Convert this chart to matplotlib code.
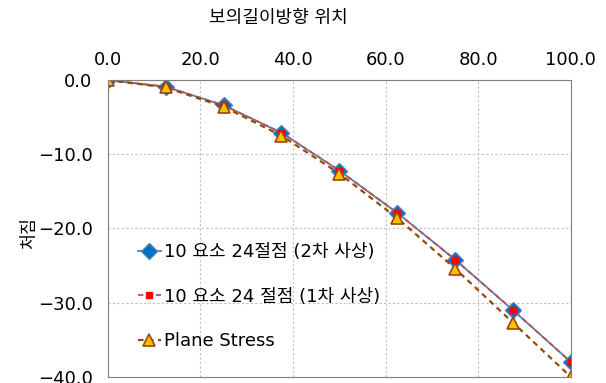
import matplotlib
matplotlib.use("Agg")
import matplotlib.pyplot as plt

plt.rcParams['font.family'] = ['DejaVu Sans', 'Noto Sans CJK KR']

# ================ data =======================
positions = [0.0, 12.5, 25.0, 37.5, 50.0, 62.5, 75.0, 87.5, 100.0]
quad = [0.0, -0.9, -3.4, -7.1, -12.2, -17.9, -24.2, -31.0, -38.0]
linear = [0.0, -0.9, -3.4, -7.1, -12.2, -17.9, -24.2, -31.0, -38.0]
plane = [0.0, -1.0, -3.6, -7.5, -12.6, -18.6, -25.4, -32.7, -40.0]
labels = ["10 요소 24절점 (2차 사상)", "10 요소 24 절점 (1차 사상)", "Plane Stress"]
x_ticks = [0, 20, 40, 60, 80, 100]
y_ticks = [0, -10, -20, -30, -40]

fig = plt.figure(figsize=(6.06, 3.83), dpi=100)
ax = fig.add_axes([0.178, 0.016, 0.764, 0.775])

ax.plot(positions, quad, color="#4F81BD", lw=1.3, marker="D", ms=8.5,
        mfc="#0070C0", mec="#4F81BD", label=labels[0])
ax.plot(positions, linear, color="#C0504D", lw=1.3, ls=(0, (3, 2)), marker="s", ms=5,
        mfc="#FF0000", mec="#FF0000", label=labels[1])
ax.plot(positions, plane, color="#984807", lw=1.6, ls=(0, (2.5, 2)), marker="^", ms=8.5,
        mfc="#FFC000", mec="#984807", mew=1.2, label=labels[2])

ax.set_xlim(0, 100)
ax.set_ylim(-40, 0)
ax.set_xticks(x_ticks)
ax.set_yticks(y_ticks)
ax.set_xticklabels(["%.1f" % v for v in x_ticks])
ax.set_yticklabels([("%.1f" % v).replace("-", "\u2212") for v in y_ticks])
ax.xaxis.tick_top()
ax.tick_params(axis="both", labelsize=13, length=0, colors="#000000")
ax.tick_params(axis="x", pad=8)
ax.tick_params(axis="y", pad=11)
ax.grid(True, ls=(0, (2, 2)), color="#BFBFBF", lw=0.8)
for s in ax.spines.values():
    s.set_color("#7F7F7F")

fig.text(278 / 606, 1 - 18 / 383, "보의길이방향 위치", fontsize=13, ha="center", va="center")
fig.text(29 / 606, 1 - 233 / 383, "처짐", fontsize=12.5, rotation=90, ha="center", va="center")

ax.legend(loc="center left", bbox_to_anchor=(0.065, 0.27), frameon=False, fontsize=13,
          labelspacing=1.48, handlelength=1.25, handletextpad=0.2,
          borderpad=0, borderaxespad=0)

fig.savefig("out.png", dpi=100)
